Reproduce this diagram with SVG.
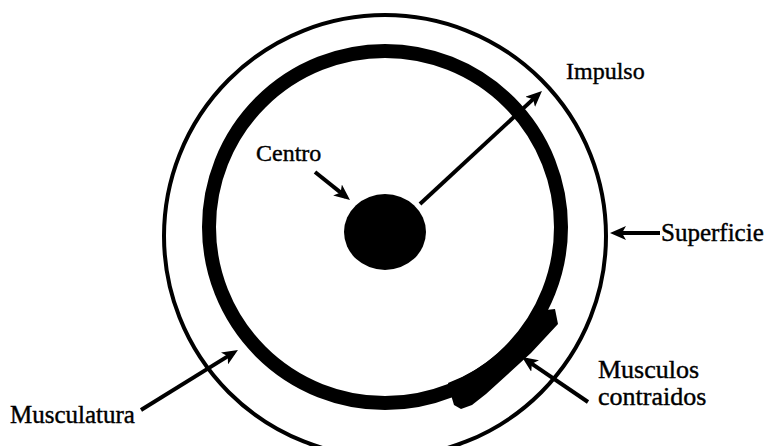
<svg xmlns="http://www.w3.org/2000/svg" width="774" height="446" viewBox="0 0 774 446">
<style>
.lbl{font-family:"Liberation Serif","Times New Roman",serif;font-size:24px;fill:#000;stroke:#000;stroke-width:0.4}
.big{font-size:25px}
.big2{font-size:26px}
.con{stroke:#000;stroke-width:4;fill:none;marker-end:url(#ah)}
</style>
<defs>
<marker id="ah" viewBox="0 0 16 14" refX="11" refY="7" markerWidth="16" markerHeight="14" markerUnits="userSpaceOnUse" orient="auto">
<path d="M0,0 L16,7 L0,14 L4,7 z" fill="#000"/>
</marker>
</defs>
<rect width="774" height="446" fill="#fff"/>
<g id="superficie">
<circle cx="385" cy="236" r="221" fill="none" stroke="#000" stroke-width="4"/>
</g>
<g id="musculatura">
<circle cx="385" cy="227" r="176" fill="none" stroke="#000" stroke-width="14"/>
</g>
<g id="musculos-contraidos">
<path d="M546,310 L555,309 L558,324 L531,353 L486,394 L472,405 L461,409 L454,405 L451,395 L448,383 A168,168 0 0 0 536,306 Z" fill="#000"/>
</g>
<g id="centro">
<ellipse cx="385" cy="232" rx="41" ry="38" fill="#000"/>
</g>
<g id="connectors">
<line class="con" x1="420" y1="204" x2="538.3" y2="94.4"/>
<line class="con" x1="315" y1="172" x2="346.1" y2="196.9"/>
<line class="con" x1="660" y1="233" x2="615" y2="233"/>
<line class="con" x1="588" y1="402" x2="526.1" y2="359.8"/>
<line class="con" x1="141" y1="410" x2="233.7" y2="352.6"/>
</g>
<g id="labels">
<text class="lbl" x="256" y="161">Centro</text>
<text class="lbl" x="566" y="79">Impulso</text>
<text class="lbl big" x="661" y="241">Superficie</text>
<text class="lbl big2" x="598" y="378">Musculos</text>
<text class="lbl big2" x="598" y="405">contraidos</text>
<text class="lbl big" x="10" y="423">Musculatura</text>
</g>
</svg>
